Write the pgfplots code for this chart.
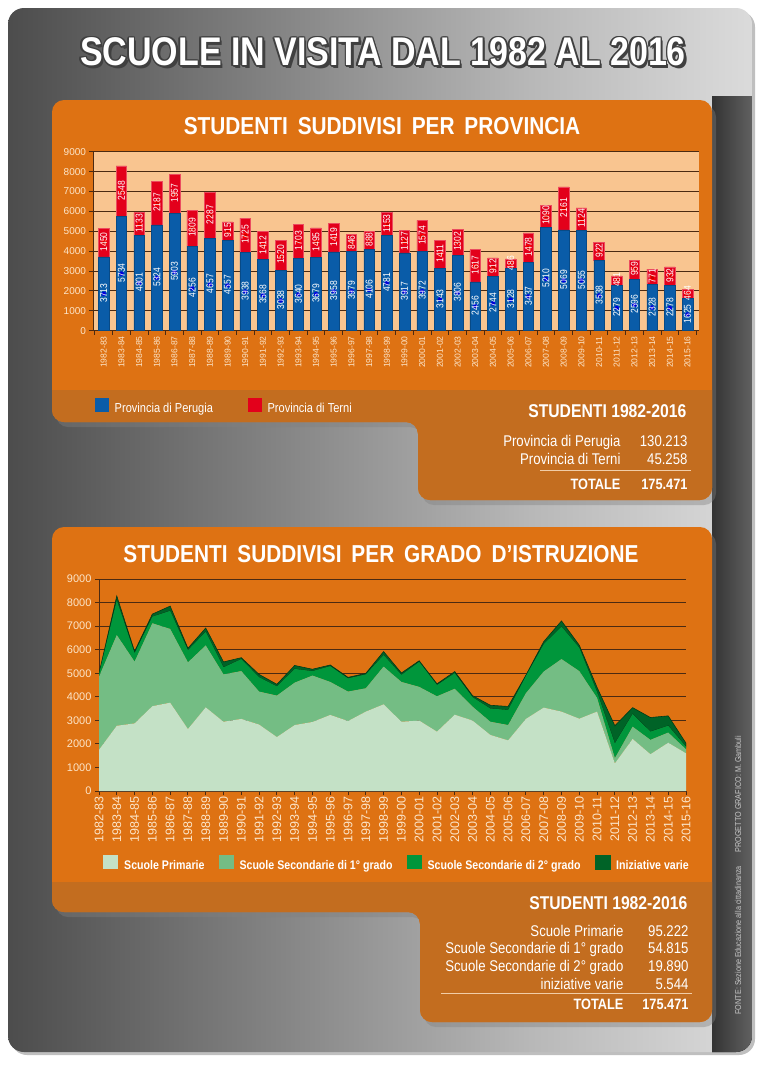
\documentclass[border=0pt]{standalone}
\usepackage{graphicx}
\usepackage{pgfplots}
\pgfplotsset{compat=1.18}
\usepackage{pgfplotstable}
\usepackage{fontspec}
\setmainfont{Liberation Sans}
\newfontfamily\cond{Liberation Sans}[FakeStretch=0.85]
\usetikzlibrary{shadows}

\definecolor{orA}{HTML}{DE7213}
\definecolor{orB}{HTML}{C36D1F}
\definecolor{peach}{HTML}{F9C590}
\definecolor{brown}{HTML}{4B2A12}
\definecolor{pg}{HTML}{0A5CA8}
\definecolor{tr}{HTML}{E3001B}
\definecolor{lbl}{HTML}{FCE5C9}
\definecolor{gA}{HTML}{C4E1C6}
\definecolor{gB}{HTML}{74BD84}
\definecolor{gC}{HTML}{00963B}
\definecolor{gD}{HTML}{006327}

\pgfdeclarehorizontalshading{metal}{100bp}{color(0bp)=(black!72); color(25bp)=(black!70); color(60bp)=(black!28); color(85bp)=(black!5); color(100bp)=(black!15)}

\pgfplotsset{/pgf/number format/.cd, 1000 sep={}, assume math mode=true}

% etichetta ruotata, centrata sul punto
\newlength\lblw
\newcommand\barlbl[1]{%
  \settowidth\lblw{\cond\fontsize{10}{10}\selectfont #1}%
  \smash{\raisebox{-0.5\lblw}{\rotatebox{90}{\cond\fontsize{10}{10}\selectfont #1}}}}

% studenti per provincia, 1982-83 ... 2015-16
\pgfplotstableread{
per  ter
3713 1450
5734 2548
4801 1133
5324 2187
5903 1957
4256 1809
4657 2287
4557 915
3938 1725
3568 1412
3038 1520
3640 1703
3679 1495
3958 1419
3979 846
4106 888
4781 1153
3917 1127
3972 1574
3143 1411
3806 1302
2456 1617
2744 912
3128 486
3437 1478
5210 1090
5069 2161
5055 1124
3538 922
2279 481
2596 959
2328 771
2278 932
1625 464
}\prov

% studenti per grado d'istruzione (stime)
\pgfplotstableread{
pri  sec1 sec2 ini
1750 3100 100 50
2770 3850 1480 180
2870 2620 360 80
3600 3520 280 110
3750 3130 770 200
2630 2830 520 80
3550 2630 580 160
2940 2010 300 230
3060 2030 510 60
2820 1400 610 120
2290 1760 390 90
2800 1800 580 150
2930 1970 190 80
3230 1400 670 50
2970 1250 560 45
3370 990 590 45
3680 1600 490 150
2940 1690 300 80
2990 1430 1060 50
2520 1500 480 50
3240 1100 660 70
2990 590 400 70
2380 560 560 140
2150 650 640 150
3060 1090 730 40
3540 1530 1160 110
3370 2230 1380 240
3070 2020 990 110
3370 580 250 200
1170 220 630 750
2210 520 540 270
1560 610 350 600
2050 430 290 420
1600 170 110 150
}\grado

\begin{document}
\begin{tikzpicture}
\path[use as bounding box] (0,0) rectangle (769pt,-1068pt);
\begin{scope}[x=1pt,y=-1pt]
% sfondo
\fill[white] (0,0) rectangle (769,1068);
\path[shading=metal, rounded corners=16pt, drop shadow={shadow xshift=3pt, shadow yshift=-3pt, opacity=.5}] (8,8) rectangle (752,1052);
\begin{scope}
  \clip[rounded corners=16pt] (8,8) rectangle (752,1052);
  \fill[left color=black!80, right color=black!62] (712,96) rectangle (752,1060);
\end{scope}

% titolo
\foreach \dx/\dy in {1.7/0,-1.7/0,0/1.7,0/-1.7,1.2/1.2,-1.2/1.2,1.2/-1.2,-1.2/-1.2,2.5/2.8}
  \node[text=black!75, font=\cond\bfseries\fontsize{40}{40}\selectfont] at (383+\dx,52+\dy) {SCUOLE IN VISITA DAL 1982 AL 2016};
\node[text=white, font=\cond\bfseries\fontsize{40}{40}\selectfont] at (383,52) {SCUOLE IN VISITA DAL 1982 AL 2016};

% pannello 1
\path[fill=orA, rounded corners=12pt, drop shadow={shadow xshift=4pt, shadow yshift=-5pt, opacity=.4}]
  (52,100) -- (712,100) -- (712,500) -- (418,500) -- (418,422) -- (52,422) -- cycle;
\begin{scope}
  \clip[rounded corners=12pt] (52,100) -- (712,100) -- (712,500) -- (418,500) -- (418,422) -- (52,422) -- cycle;
  \fill[orB] (40,390) rectangle (730,520);
\end{scope}
\node[text=white, font=\cond\bfseries\fontsize{24.5}{25}\selectfont] at (382,126) {STUDENTI\, SUDDIVISI\, PER\, PROVINCIA};
\node[anchor=base east, text=white, font=\cond\bfseries\fontsize{18.5}{19}\selectfont] at (690,417.5) {STUDENTI 1982-2016};
\begin{scope}[every node/.style={anchor=base east, text=white, font=\cond\fontsize{15.5}{16}\selectfont}]
  \node at (624,446) {Provincia di Perugia}; \node at (691,446) {130.213};
  \node at (624,464) {Provincia di Terni};   \node at (691,464) {45.258};
\end{scope}
\draw[lbl!80!orB, line width=1pt] (540,470) -- (691,470);
\begin{scope}[every node/.style={anchor=base east, text=white, font=\cond\bfseries\fontsize{15}{16}\selectfont}]
  \node at (624,489) {TOTALE}; \node at (691,489) {175.471};
\end{scope}

% pannello 2
\path[fill=orA, rounded corners=12pt, drop shadow={shadow xshift=4pt, shadow yshift=-5pt, opacity=.4}]
  (52,527) -- (712,527) -- (712,1022) -- (420,1022) -- (420,912) -- (52,912) -- cycle;
\begin{scope}
  \clip[rounded corners=12pt] (52,527) -- (712,527) -- (712,1022) -- (420,1022) -- (420,912) -- (52,912) -- cycle;
  \fill[orB] (40,882) rectangle (730,1040);
\end{scope}
\node[text=white, font=\cond\bfseries\fontsize{24.5}{25}\selectfont] at (381,554) {STUDENTI\, SUDDIVISI\, PER\, GRADO\, D’ISTRUZIONE};
\node[anchor=base east, text=white, font=\cond\bfseries\fontsize{18.5}{19}\selectfont] at (691,909.5) {STUDENTI 1982-2016};
\begin{scope}[every node/.style={anchor=base east, text=white, font=\cond\fontsize{15.5}{16}\selectfont}]
  \node at (627,936) {Scuole Primarie};               \node at (692,936) {95.222};
  \node at (627,953) {Scuole Secondarie di 1° grado}; \node at (692,953) {54.815};
  \node at (627,971) {Scuole Secondarie di 2° grado}; \node at (692,971) {19.890};
  \node at (627,989) {iniziative varie};              \node at (692,989) {5.544};
\end{scope}
\draw[lbl!80!orB, line width=1pt] (441,993) -- (692,993);
\begin{scope}[every node/.style={anchor=base east, text=white, font=\cond\bfseries\fontsize{15}{16}\selectfont}]
  \node at (627,1009) {TOTALE}; \node at (692,1009) {175.471};
\end{scope}

% fonte
\node[rotate=90, anchor=west, text=black!22, font=\cond\fontsize{8.5}{9}\selectfont] at (738,1018)
  {FONTE: Sezione Educazione alla cittadinanza\hspace{14pt}PROGETTO GRAFICO: M. Gambuli};
\end{scope}

% grafico 1: barre impilate per provincia
\begin{axis}[
  at={(93.5pt,-330.7pt)}, anchor=south west,
  scale only axis, width=605.5pt, height=179pt,
  xmin=-0.58, xmax=33.65, ymin=0, ymax=9000,
  ybar stacked, bar width=10.6pt,
  axis background/.style={fill=peach},
  axis x line*=bottom, axis y line*=left,
  axis line style={brown, line width=1pt},
  ytick={0,1000,...,9000},
  ymajorgrids, major grid style={brown, line width=0.9pt},
  xtick={0,...,33},
  xticklabels={1982-83,1983-84,1984-85,1985-86,1986-87,1987-88,1988-89,1989-90,1990-91,1991-92,1992-93,1993-94,1994-95,1995-96,1996-97,1997-98,1998-99,1999-00,2000-01,2001-02,2002-03,2003-04,2004-05,2005-06,2006-07,2007-08,2008-09,2009-10,2010-11,2011-12,2012-13,2013-14,2014-15,2015-16},
  minor xtick={-0.5,0.5,...,33.5},
  tick align=outside, major tick length=4pt, minor tick length=4pt,
  major x tick style={draw=none},
  minor x tick style={brown, line width=0.9pt},
  y tick style={brown, line width=0.9pt},
  xticklabel style={rotate=90, anchor=east, font=\fontsize{8.6}{9}\selectfont, text=lbl, inner sep=1.5pt},
  yticklabel style={font=\fontsize{10}{10}\selectfont, text=lbl},
  legend style={at={(0.0025,-0.426)}, anchor=west, draw=none, fill=none, inner sep=0pt,
    legend columns=-1, text=white, font=\cond\fontsize{13}{13}\selectfont,
    /tikz/every odd column/.append style={column sep=4pt},
    /tikz/every even column/.append style={column sep=33pt}},
]
\addplot[fill=pg, draw=pg!80!black, line width=0.5pt,
  legend image code/.code={\fill[pg] (0pt,-3pt) rectangle (13pt,10pt);}]
  table[x expr=\coordindex, y=per]{\prov};
\addlegendentry{Provincia di Perugia}
\addplot[fill=tr, draw=tr!70!white, line width=0.6pt,
  legend image code/.code={\fill[tr] (0pt,-3pt) rectangle (13pt,10pt);}]
  table[x expr=\coordindex, y=ter]{\prov};
\addlegendentry{Provincia di Terni}
\end{axis}

% etichette dei valori, al centro di ogni segmento
\begin{axis}[
  at={(93.5pt,-330.7pt)}, anchor=south west,
  scale only axis, width=605.5pt, height=179pt,
  xmin=-0.58, xmax=33.65, ymin=0, ymax=9000,
  hide axis, clip=false,
  every axis plot/.append style={draw=none, mark=none, point meta=explicit symbolic,
    nodes near coords={\barlbl{\pgfplotspointmeta}},
    every node near coord/.append style={inner sep=0pt, text=white}},
]
\addplot table[x expr=\coordindex, y expr=\thisrow{per}/2, meta=per]{\prov};
\addplot table[x expr=\coordindex, y expr=\thisrow{per}+\thisrow{ter}/2, meta=ter]{\prov};
\end{axis}

% grafico 2: aree impilate per grado
\begin{axis}[
  at={(99pt,-791pt)}, anchor=south west,
  scale only axis, width=587pt, height=212pt,
  xmin=0, xmax=33, ymin=0, ymax=9000,
  stack plots=y,
  axis x line*=bottom, axis y line*=left,
  axis line style={brown, line width=1pt},
  ytick={0,1000,...,9000},
  ymajorgrids, major grid style={brown, line width=0.9pt},
  xtick={0,...,33},
  xticklabels={1982-83,1983-84,1984-85,1985-86,1986-87,1987-88,1988-89,1989-90,1990-91,1991-92,1992-93,1993-94,1994-95,1995-96,1996-97,1997-98,1998-99,1999-00,2000-01,2001-02,2002-03,2003-04,2004-05,2005-06,2006-07,2007-08,2008-09,2009-10,2010-11,2011-12,2012-13,2013-14,2014-15,2015-16},
  tick align=outside, major tick length=4pt,
  tick style={brown, line width=0.9pt},
  xticklabel style={rotate=90, anchor=east, font=\fontsize{12.5}{13}\selectfont, text=lbl, inner sep=1.5pt},
  yticklabel style={font=\fontsize{11}{11}\selectfont, text=lbl},
  legend style={at={(0.0068,-0.344)}, anchor=west, draw=none, fill=none, inner sep=0pt,
    legend columns=-1, text=white, font=\cond\bfseries\fontsize{12.5}{13}\selectfont,
    /tikz/every odd column/.append style={column sep=4pt},
    /tikz/every even column/.append style={column sep=12pt}},
]
\addplot[fill=gA, draw=none, legend image code/.code={\fill[gA] (0pt,-3pt) rectangle (15pt,11pt);}]
  table[x expr=\coordindex, y=pri]{\grado} \closedcycle;
\addlegendentry{Scuole Primarie}
\addplot[fill=gB, draw=none, legend image code/.code={\fill[gB] (0pt,-3pt) rectangle (15pt,11pt);}]
  table[x expr=\coordindex, y=sec1]{\grado} \closedcycle;
\addlegendentry{Scuole Secondarie di 1° grado}
\addplot[fill=gC, draw=none, legend image code/.code={\fill[gC] (0pt,-3pt) rectangle (15pt,11pt);}]
  table[x expr=\coordindex, y=sec2]{\grado} \closedcycle;
\addlegendentry{Scuole Secondarie di 2° grado}
\addplot[fill=gD, draw=gD!60!black, line width=0.6pt, legend image code/.code={\fill[gD] (0pt,-3pt) rectangle (15pt,11pt);}]
  table[x expr=\coordindex, y=ini]{\grado} \closedcycle;
\addlegendentry{Iniziative varie}
\end{axis}
\end{tikzpicture}
\end{document}
